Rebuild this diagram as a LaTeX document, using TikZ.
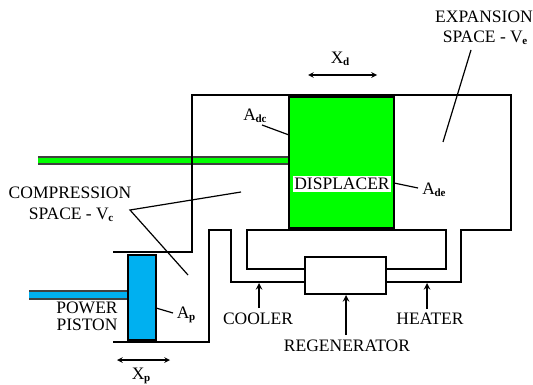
\documentclass[tikz,border=0pt]{standalone}
\usepackage{fontspec}
\setmainfont{Liberation Serif}
\usepackage[dvipsnames]{xcolor}
\definecolor{dispgreen}{RGB}{0,255,0}
\definecolor{pistblue}{RGB}{0,176,240}
\newcommand{\lowidx}[1]{\kern-0.5pt\raisebox{-2.5pt}{\fontsize{11}{12}\selectfont\bfseries #1}}
\begin{document}
\begin{tikzpicture}[x=1pt,y=-1pt,>=stealth,wall/.style={line width=1.9pt,line join=miter},leader/.style={line width=1.2pt},motion/.style={<->,line width=1.5pt},pointer/.style={->,line width=1.9pt},rod/.style={line width=1.3pt,draw=black!75},main node/.style={inner sep=0pt,font=\fontsize{17.5}{20}\selectfont}]
            \useasboundingbox (0,0) rectangle (533,385);

            % moving parts
            \fill[dispgreen] (38,157) rectangle (289,164);
            \draw[rod] (38,157) -- (289,157) (38,164) -- (289,164);
            \draw[line width=1.9pt,fill=dispgreen] (289,97) rectangle (394,228);
            \fill[pistblue] (29,291) rectangle (128,299);
            \draw[rod] (29,291) -- (128,291) (29,299) -- (128,299);
            \draw[line width=1.9pt,fill=pistblue] (128,255) rectangle (156,340);

            % cylinder walls
            \draw[wall] (113,252) -- (192,252) -- (192,95) -- (511,95) -- (511,230) -- (461,230) -- (461,282) -- (386,282);
            \draw[wall] (113,342) -- (209,342) -- (209,230) -- (231,230) -- (231,282) -- (305,282);
            \draw[wall] (305,269) -- (247,269) -- (247,230) -- (446,230) -- (446,269) -- (386,269);

            \node[draw,line width=1.9pt,minimum width=81pt,minimum height=37pt,inner sep=0pt] (regen) at (345.5,275.5) {};

            % labels
            \node[main node] (comp) at (70,193) {COMPRESSION};
            \node[main node] (compb) at (71,215) {SPACE - V\lowidx{c}};
            \node[main node] (exp) at (484,17) {EXPANSION};
            \node[main node] (expb) at (485,38) {SPACE - V\lowidx{e}};
            \node[main node] (xd) at (340,59) {X\lowidx{d}};
            \node[main node] (adc) at (255,116) {A\lowidx{dc}};
            \node[main node] (ade) at (434,190) {A\lowidx{de}};
            \node[main node,fill=white,inner xsep=1.5pt,inner ysep=2pt] (disp) at (342,184) {DISPLACER};
            \node[main node] (power) at (87,308) {POWER};
            \node[main node] (piston) at (87,325) {PISTON};
            \node[main node] (ap) at (186,315) {A\lowidx{p}};
            \node[main node] (xp) at (141,376) {X\lowidx{p}};
            \node[main node] (cooler) at (258,319) {COOLER};
            \node[main node] (heater) at (430,319) {HEATER};
            \node[main node] (regenl) at (347,346) {REGENERATOR};

            % leaders
            \coordinate (cv) at (130,210);
            \coordinate (ca) at (241,192);
            \coordinate (cb) at (188,275);
            \coordinate (ea) at (471,50);
            \coordinate (eb) at (443,142);
            \coordinate (dca) at (262,125);
            \coordinate (dcb) at (289,135);
            \coordinate (dea) at (394,183);
            \coordinate (deb) at (418,188);
            \coordinate (apa) at (156,308);
            \coordinate (apb) at (173,313);
            \draw[leader] (ca) -- (cv) -- (cb);
            \draw[leader] (ea) -- (eb);
            \draw[leader] (dca) -- (dcb);
            \draw[leader] (dea) -- (deb);
            \draw[leader] (apa) -- (apb);

            % arrows
            \coordinate (xdl) at (308,75);
            \coordinate (xdr) at (377,75);
            \coordinate (xpl) at (117,360);
            \coordinate (xpr) at (170,360);
            \coordinate (coola) at (259,308);
            \coordinate (coolb) at (259,283);
            \coordinate (heata) at (427,309);
            \coordinate (heatb) at (427,283);
            \coordinate (rega) at (346,335);
            \coordinate (regb) at (346,295);
            \draw[motion] (xdl) -- (xdr);
            \draw[motion] (xpl) -- (xpr);
            \draw[pointer] (coola) -- (coolb);
            \draw[pointer] (heata) -- (heatb);
            \draw[pointer] (rega) -- (regb);
        \end{tikzpicture}
\end{document}
